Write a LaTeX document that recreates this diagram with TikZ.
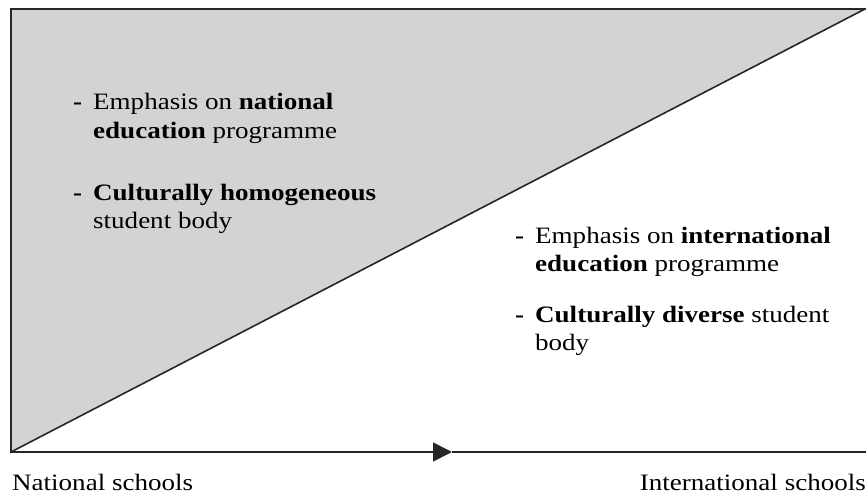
\documentclass[tikz,border=0pt]{standalone}
\usepackage{fontspec}
\setmainfont{Liberation Serif}[FakeStretch=1.15]
\usetikzlibrary{arrows.meta}
\definecolor{shadegray}{RGB}{211,211,211}
\tikzset{
  frameline/.style={line width=1.6pt, draw=black!85},
  itemtext/.style={anchor=base west, inner sep=0pt, text=black,
    font=\fontsize{23.5}{28.5}\selectfont},
  axislabel/.style={inner sep=0pt, text=black, font=\fontsize{23.5}{28.5}\selectfont},
}
\newcommand{\dashitem}[2]{\begin{tabular}[t]{@{}l@{}l@{}}\makebox[20pt][l]{\textbf{-}}&#1\\&#2\end{tabular}}

\begin{document}
\begin{tikzpicture}[x=1pt,y=-1pt]
            \useasboundingbox (0,0) rectangle (866,497);
            \coordinate (tl) at (11,9);
            \coordinate (tr) at (865,9);
            \coordinate (bl) at (11,452);
            \coordinate (br) at (866,452);
            \coordinate (mid) at (452,452);
            \fill[shadegray] (bl) -- (tl) -- (tr) -- cycle;
            \draw[frameline] (bl) -- (tl) -- (tr) -- cycle;
            \draw[frameline,-{Triangle[length=19pt,width=19pt]}] (bl) -- (mid);
            \draw[frameline] (mid) -- (br);
            \node[itemtext] (nat1) at (73,110) {\dashitem{Emphasis on \textbf{national}}{\textbf{education} programme}};
            \node[itemtext] (nat2) at (73,200) {\dashitem{\textbf{Culturally homogeneous}}{student body}};
            \node[itemtext] (int1) at (515,243) {\dashitem{Emphasis on \textbf{international}}{\textbf{education} programme}};
            \node[itemtext] (int2) at (515,322) {\dashitem{\textbf{Culturally diverse} student}{body}};
            \node[axislabel,anchor=base west] (natlabel) at (12,490) {National schools};
            \node[axislabel,anchor=base east] (intlabel) at (866,490) {International schools};
        \end{tikzpicture}
\end{document}
